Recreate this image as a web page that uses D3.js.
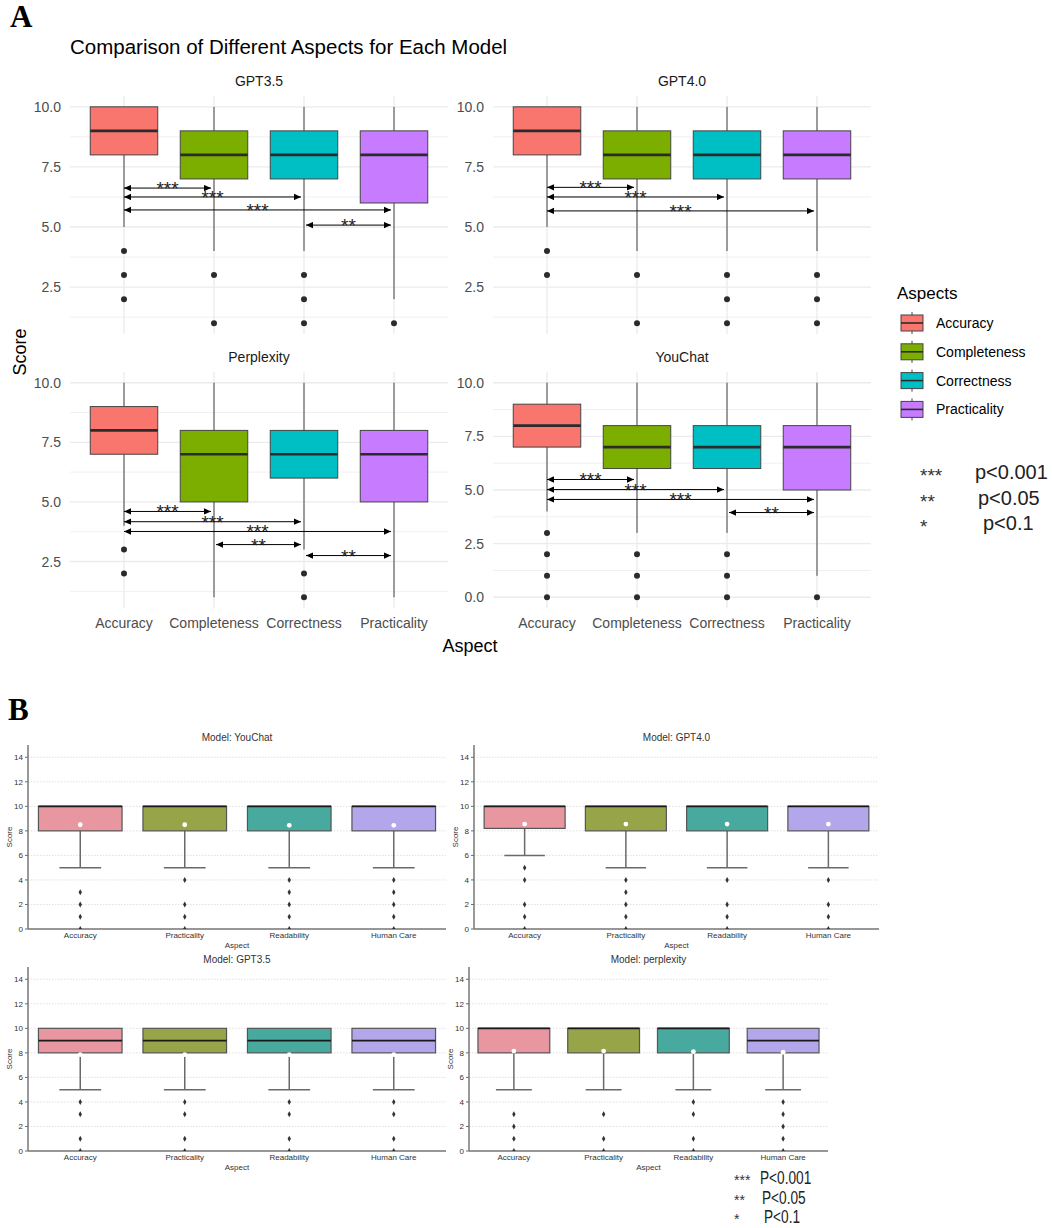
<!DOCTYPE html>
<html><head><meta charset="utf-8">
<script src="https://cdn.jsdelivr.net/npm/d3@7"></script>
<style>
body{margin:0;background:#fff}
svg{display:block;font-family:"Liberation Sans",Arial,sans-serif}
</style>
</head><body>
<svg id="c" width="1052" height="1228"></svg>
<script>
// ---------------- DATA: panel A ----------------
const aspectsA = ["Accuracy","Completeness","Correctness","Practicality"];
const modelsA = ["GPT3.5","GPT4.0","Perplexity","YouChat"];
const colorsA = ["#F8766D","#7CAE00","#00BFC4","#C77CFF"];
// each box: [lowerWhisker, q1, median, q3, upperWhisker]
const boxA_GPT35 = [[5,8,9,10,10],[4,7,8,9,10],[4,7,8,9,10],[2,6,8,9,10]];
const outA_GPT35 = [[4,3,2],[3,1],[3,2,1],[1]];
const sigA_GPT35 = [[0,1,6.62,"***"],[0,2,6.25,"***"],[0,3,5.71,"***"],[2,3,5.08,"**"]];
const boxA_GPT40 = [[5,8,9,10,10],[4,7,8,9,10],[4,7,8,9,10],[4,7,8,9,10]];
const outA_GPT40 = [[4,3],[3,1],[3,2,1],[3,2,1]];
const sigA_GPT40 = [[0,1,6.65,"***"],[0,2,6.25,"***"],[0,3,5.67,"***"]];
const boxA_Perp = [[4,7,8,9,10],[1,5,7,8,10],[3,6,7,8,10],[1,5,7,8,10]];
const outA_Perp = [[3,2],[],[2,1],[]];
const sigA_Perp = [[0,1,4.6,"***"],[0,2,4.17,"***"],[0,3,3.76,"***"],[1,2,3.21,"**"],[2,3,2.75,"**"]];
const boxA_You = [[4,7,8,9,10],[3,6,7,8,10],[3,6,7,8,10],[1,5,7,8,10]];
const outA_You = [[3,2,1,0],[2,1,0],[2,1,0],[0]];
const sigA_You = [[0,1,5.49,"***"],[0,2,5.02,"***"],[0,3,4.56,"***"],[2,3,3.95,"**"]];
const yTicksA = [0,2.5,5,7.5,10];
const pLegendA = [["***","p<0.001"],["**","p<0.05"],["*","p<0.1"]];

// ---------------- DATA: panel B ----------------
const aspectsB = ["Accuracy","Practicality","Readability","Human Care"];
const modelsB = ["YouChat","GPT4.0","GPT3.5","perplexity"];
const colorsB = ["#E8969F","#98A448","#48A99E","#B4A6EA"];
const boxB_You = [[5,8,10,10,10],[5,8,10,10,10],[5,8,10,10,10],[5,8,10,10,10]];
const meanB_You = [8.5,8.5,8.45,8.45];
const outB_You = [[3,2,1,0],[4,2,1,0],[4,3,2,1,0],[4,3,2,1,0]];
const boxB_GPT40 = [[6,8.2,10,10,10],[5,8,10,10,10],[5,8,10,10,10],[5,8,10,10,10]];
const meanB_GPT40 = [8.55,8.55,8.55,8.55];
const outB_GPT40 = [[5,4,2,1,0],[4,3,2,1,0],[4,2,1,0],[4,2,1,0]];
const boxB_GPT35 = [[5,8,9,10,10],[5,8,9,10,10],[5,8,9,10,10],[5,8,9,10,10]];
const meanB_GPT35 = [7.85,7.85,7.85,7.85];
const outB_GPT35 = [[4,3,1,0],[4,3,1,0],[4,3,1,0],[4,3,1,0]];
const boxB_Perp = [[5,8,10,10,10],[5,8,10,10,10],[5,8,10,10,10],[5,8,9,10,10]];
const meanB_Perp = [8.15,8.15,8.1,8.05];
const outB_Perp = [[3,2,1,0],[3,1,0],[4,3,1,0],[4,3,2,1,0]];
const yTicksB = [0,2,4,6,8,10,12,14];
const pLegendB = [["***","P<0.001"],["**","P<0.05"],["*","P<0.1"]];

// ---------------- DRAW ----------------
const svg = d3.select("#c");
const defs = svg.append("defs");
defs.append("marker").attr("id","arr").attr("viewBox","0 -5 10 10")
  .attr("refX",10).attr("refY",0).attr("markerUnits","userSpaceOnUse")
  .attr("markerWidth",8).attr("markerHeight",7).attr("orient","auto-start-reverse")
  .append("path").attr("d","M0,-4.5L10,0L0,4.5Z").attr("fill","#000");

const serif = "'Liberation Serif','Times New Roman',serif";
svg.append("text").attr("x",10).attr("y",27).style("font-family",serif)
  .attr("font-weight","bold").attr("font-size",31).text("A");
svg.append("text").attr("x",8).attr("y",720).style("font-family",serif)
  .attr("font-weight","bold").attr("font-size",31).text("B");

svg.append("text").attr("x",70).attr("y",54).attr("font-size",20.5).attr("fill","#000")
  .text("Comparison of Different Aspects for Each Model");

function drawA(box, out, sig, title, x0, x1, y0, y1, showX){
  const g = svg.append("g");
  const x = d3.scalePoint().domain(aspectsA).range([x0,x1]).padding(0.6);
  const all = box.flat().concat(out.flat());
  const lo = d3.min(all), hi = d3.max(all), ex = (hi-lo)*0.05;
  const y = d3.scaleLinear().domain([lo-ex, hi+ex]).range([y1,y0]);
  const [d0,d1] = y.domain();
  const majors = yTicksA.filter(t=>t>=d0&&t<=d1);
  const minors = yTicksA.map(t=>t+1.25).concat([yTicksA[0]-1.25]).filter(t=>t>=d0&&t<=d1);
  g.selectAll(".mn").data(minors).join("line").attr("x1",x0).attr("x2",x1)
    .attr("y1",d=>y(d)).attr("y2",d=>y(d)).attr("stroke","#F0F0F0").attr("stroke-width",1);
  g.selectAll(".mj").data(majors).join("line").attr("x1",x0).attr("x2",x1)
    .attr("y1",d=>y(d)).attr("y2",d=>y(d)).attr("stroke","#EBEBEB").attr("stroke-width",1.3);
  g.selectAll(".vx").data(aspectsA).join("line").attr("x1",d=>x(d)).attr("x2",d=>x(d))
    .attr("y1",y0).attr("y2",y1).attr("stroke","#EBEBEB").attr("stroke-width",1.3);
  g.selectAll(".yt").data(majors).join("text").attr("x",x0-9).attr("y",d=>y(d)+5)
    .attr("text-anchor","end").attr("font-size",14).attr("fill","#4D4D4D").text(d3.format(".1f"));
  g.append("text").attr("x",(x0+x1)/2).attr("y",y0-10).attr("text-anchor","middle")
    .attr("font-size",14).attr("fill","#1A1A1A").text(title);
  const bw = x.step()*0.75;
  aspectsA.forEach((a,i)=>{
    const [wl,q1,md,q3,wh] = box[i]; const cx = x(a);
    g.append("line").attr("x1",cx).attr("x2",cx).attr("y1",y(q1)).attr("y2",y(wl)).attr("stroke","#444").attr("stroke-width",1);
    g.append("line").attr("x1",cx).attr("x2",cx).attr("y1",y(q3)).attr("y2",y(wh)).attr("stroke","#444").attr("stroke-width",1);
    g.append("rect").attr("x",cx-bw/2).attr("width",bw).attr("y",y(q3)).attr("height",y(q1)-y(q3))
      .attr("fill",colorsA[i]).attr("stroke","#444").attr("stroke-width",1);
    g.append("line").attr("x1",cx-bw/2).attr("x2",cx+bw/2).attr("y1",y(md)).attr("y2",y(md)).attr("stroke","#2b2b2b").attr("stroke-width",2.6);
    g.selectAll(null).data(out[i]).join("circle").attr("cx",cx).attr("cy",d=>y(d)).attr("r",3).attr("fill","#2b2b2b");
  });
  sig.forEach(([a,b,v,lab])=>{
    const xa = x(aspectsA[a]) + (a>0?2:0), xb = x(aspectsA[b]) - 3;
    g.append("line").attr("x1",xa).attr("x2",xb).attr("y1",y(v)).attr("y2",y(v))
      .attr("stroke","#000").attr("stroke-width",1)
      .attr("marker-start","url(#arr)").attr("marker-end","url(#arr)");
    g.append("text").attr("x",(xa+xb)/2).attr("y",y(v)+7).attr("text-anchor","middle")
      .attr("font-size",19).attr("fill","#222").text(lab);
  });
  if(showX){
    g.selectAll(".xt").data(aspectsA).join("text").attr("x",d=>x(d)).attr("y",y1+20)
      .attr("text-anchor","middle").attr("font-size",14).attr("fill","#4D4D4D").text(d=>d);
  }
}
drawA(boxA_GPT35,outA_GPT35,sigA_GPT35,modelsA[0],70,448,96,334,false);
drawA(boxA_GPT40,outA_GPT40,sigA_GPT40,modelsA[1],493,871,96,334,false);
drawA(boxA_Perp,outA_Perp,sigA_Perp,modelsA[2],70,448,372,608,true);
drawA(boxA_You,outA_You,sigA_You,modelsA[3],493,871,372,608,true);

svg.append("text").attr("transform","translate(26,352) rotate(-90)").attr("text-anchor","middle")
  .attr("font-size",18).attr("fill","#000").text("Score");
svg.append("text").attr("x",470).attr("y",652).attr("text-anchor","middle")
  .attr("font-size",18).attr("fill","#000").text("Aspect");

// Legend A
const lg = svg.append("g");
lg.append("text").attr("x",897).attr("y",299).attr("font-size",17).attr("fill","#000").text("Aspects");
aspectsA.forEach((a,i)=>{
  const cy = 323 + i*28.8;
  lg.append("line").attr("x1",912).attr("x2",912).attr("y1",cy-11).attr("y2",cy+11).attr("stroke","#444");
  lg.append("rect").attr("x",901).attr("y",cy-8).attr("width",22).attr("height",16)
    .attr("fill",colorsA[i]).attr("stroke","#444");
  lg.append("line").attr("x1",901).attr("x2",923).attr("y1",cy).attr("y2",cy).attr("stroke","#2b2b2b").attr("stroke-width",1.6);
  lg.append("text").attr("x",936).attr("y",cy+5).attr("font-size",14).attr("fill","#000").text(a);
});
const pxA = [975,978,983];
pLegendA.forEach(([s,t],i)=>{
  const yy = 472 + i*25.5;
  lg.append("text").attr("x",920).attr("y",yy+10).attr("font-size",19).attr("fill","#333").text(s);
  lg.append("text").attr("x",pxA[i]).attr("y",yy+7).attr("font-size",20).attr("fill","#222").text(t);
});

// ---------------- Panel B ----------------
let clipId = 0;
function drawB(box, mean, out, title, left, right, top, bottom){
  const g = svg.append("g");
  const x = d3.scalePoint().domain(aspectsB).range([left,right]).padding(0.5);
  const y = d3.scaleLinear().domain([0,15]).range([bottom,top]);
  const cid = "clipB"+(clipId++);
  defs.append("clipPath").attr("id",cid).append("rect")
    .attr("x",left).attr("y",top).attr("width",right-left).attr("height",bottom-top);
  g.selectAll(".gr").data(yTicksB).join("line").attr("x1",left).attr("x2",right)
    .attr("y1",d=>y(d)).attr("y2",d=>y(d)).attr("stroke","#D8D8D8").attr("stroke-width",0.8).attr("stroke-dasharray","1.5,1.5");
  g.selectAll(".tk").data(yTicksB).join("line").attr("x1",left-3).attr("x2",left)
    .attr("y1",d=>y(d)).attr("y2",d=>y(d)).attr("stroke","#666");
  g.selectAll(".tl").data(yTicksB).join("text").attr("x",left-5).attr("y",d=>y(d)+3)
    .attr("text-anchor","end").attr("font-size",8).attr("fill","#333").text(d=>d);
  const bw = x.step()*0.8;
  g.append("line").attr("x1",left).attr("x2",left).attr("y1",top).attr("y2",bottom).attr("stroke","#777").attr("stroke-width",1.5);
  g.append("line").attr("x1",left).attr("x2",right).attr("y1",bottom).attr("y2",bottom).attr("stroke","#777").attr("stroke-width",1.5);
  const gp = g.append("g").attr("clip-path",`url(#${cid})`);
  aspectsB.forEach((a,i)=>{
    const [wl,q1,md,q3,wh] = box[i]; const cx = x(a);
    gp.append("line").attr("x1",cx).attr("x2",cx).attr("y1",y(q1)).attr("y2",y(wl)).attr("stroke","#6a6a6a").attr("stroke-width",1.5);
    gp.append("line").attr("x1",cx-bw/4).attr("x2",cx+bw/4).attr("y1",y(wl)).attr("y2",y(wl)).attr("stroke","#6a6a6a").attr("stroke-width",1.5);
    gp.append("rect").attr("x",cx-bw/2).attr("width",bw).attr("y",y(q3)).attr("height",y(q1)-y(q3))
      .attr("fill",colorsB[i]).attr("stroke","#555").attr("stroke-width",1.2);
    gp.append("line").attr("x1",cx-bw/2).attr("x2",cx+bw/2).attr("y1",y(md)).attr("y2",y(md)).attr("stroke","#1a1a1a").attr("stroke-width",1.6);
    gp.append("circle").attr("cx",cx).attr("cy",y(mean[i])).attr("r",2.4).attr("fill","#fff");
    gp.selectAll(null).data(out[i]).join("path")
      .attr("d",d=>`M${cx},${y(d)-3}L${cx+1.7},${y(d)}L${cx},${y(d)+3}L${cx-1.7},${y(d)}Z`).attr("fill","#333");
  });
  g.selectAll(".xl").data(aspectsB).join("text").attr("x",d=>x(d)).attr("y",bottom+9)
    .attr("text-anchor","middle").attr("font-size",8).attr("fill","#333").text(d=>d);
  g.append("text").attr("x",(left+right)/2).attr("y",bottom+19).attr("text-anchor","middle")
    .attr("font-size",8).attr("fill","#333").text("Aspect");
  g.append("text").attr("x",(left+right)/2).attr("y",top-4).attr("text-anchor","middle")
    .attr("font-size",10).attr("fill","#333").text("Model: "+title);
  g.append("text").attr("transform",`translate(${left-16},${(top+bottom)/2}) rotate(-90)`).attr("text-anchor","middle")
    .attr("font-size",8).attr("fill","#333").text("Score");
}
drawB(boxB_You,meanB_You,outB_You,modelsB[0],28,446,745,929);
drawB(boxB_GPT40,meanB_GPT40,outB_GPT40,modelsB[1],474,879,745,929);
drawB(boxB_GPT35,meanB_GPT35,outB_GPT35,modelsB[2],28,446,967,1151);
drawB(boxB_Perp,meanB_Perp,outB_Perp,modelsB[3],469,828,967,1151);

const pxB = [760,762,764];
pLegendB.forEach(([s,t],i)=>{
  const yy = 1178 + i*19.5;
  svg.append("text").attr("x",734).attr("y",yy+7).attr("font-size",14).attr("fill","#333").text(s);
  svg.append("text").attr("transform",`translate(${pxB[i]},${yy+6}) scale(0.76,1)`).attr("font-size",18)
    .attr("fill","#222").text(t);
});
</script>
</body></html>
